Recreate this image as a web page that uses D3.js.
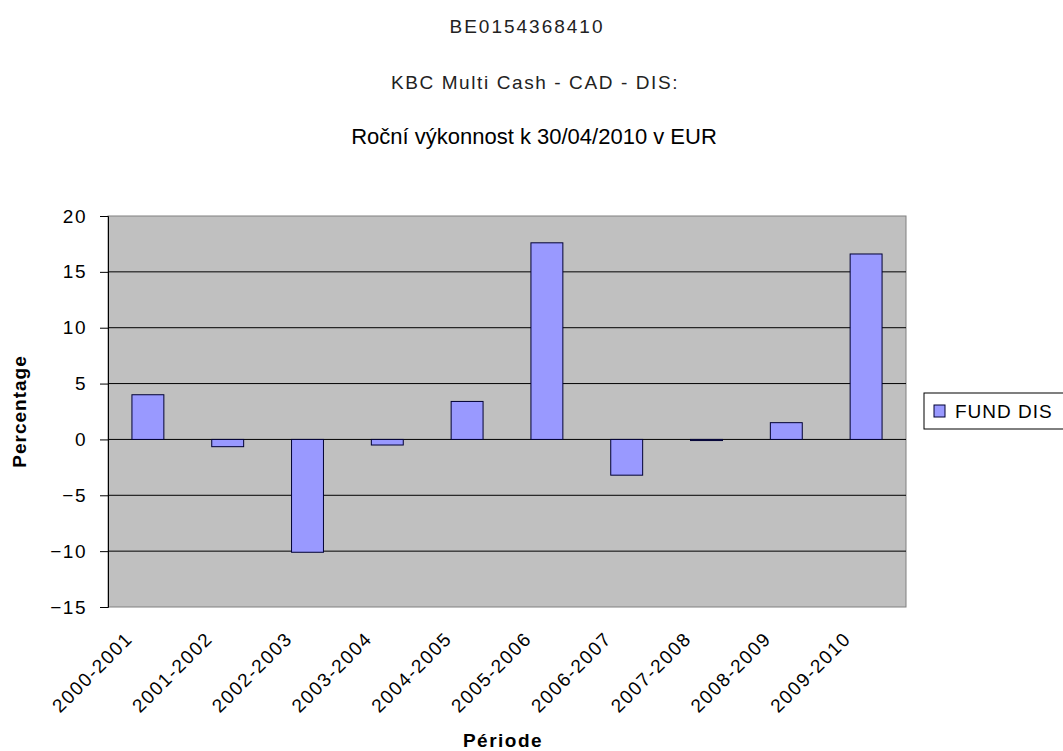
<!DOCTYPE html>
<html>
<head>
<meta charset="utf-8">
<script src="https://cdn.jsdelivr.net/npm/d3@7"></script>
<style>
  body { margin: 0; background: #fff; }
  text { font-family: Arial, "Liberation Sans", sans-serif; }
</style>
</head>
<body>
<svg id="chart" width="1063" height="751"></svg>
<script>
// data
const periods = ["2000-2001", "2001-2002", "2002-2003", "2003-2004", "2004-2005",
                 "2005-2006", "2006-2007", "2007-2008", "2008-2009", "2009-2010"];
const fundDis = [4.0, -0.65, -10.1, -0.5, 3.4, 17.6, -3.2, -0.1, 1.5, 16.6];
const yTicks = [20, 15, 10, 5, 0, -5, -10, -15];
const titles = ["BE0154368410", "KBC Multi Cash - CAD - DIS:", "Roční výkonnost k 30/04/2010 v EUR"];

var margin = ({ top: 216, right: 157, bottom: 144, left: 108 });
var width = 1063, height = 751;

const svg = d3.select("#chart");

let x = d3.scaleBand()
    .domain(periods)
    .range([margin.left, width - margin.right])
    .paddingInner(0.6)
    .paddingOuter(0.3);

let y = d3.scaleLinear()
    .domain([-15, 20])
    .range([height - margin.bottom, margin.top]);

// plot background
svg.append("rect")
    .attr("x", margin.left)
    .attr("y", margin.top)
    .attr("width", width - margin.right - margin.left)
    .attr("height", y(-15) - y(20))
    .attr("fill", "#c0c0c0")
    .attr("stroke", "#808080");

// grid lines
svg.append("g")
    .selectAll("line")
    .data(yTicks.filter(d => d > -15 && d < 20))
    .join("line")
    .attr("x1", margin.left)
    .attr("x2", width - margin.right)
    .attr("y1", d => y(d))
    .attr("y2", d => y(d))
    .attr("stroke", "#000")
    .attr("stroke-width", 1);

// bars
svg.append("g")
    .selectAll("rect")
    .data(fundDis)
    .join("rect")
    .attr("x", (d, i) => x(periods[i]))
    .attr("width", x.bandwidth())
    .attr("y", d => y(Math.max(0, d)))
    .attr("height", d => Math.abs(y(d) - y(0)))
    .attr("fill", "#9999ff")
    .attr("stroke", "#000033")
    .attr("stroke-width", 1);

// y axis
let yAxis = g => g
    .attr("transform", `translate(${margin.left},0)`)
    .call(d3.axisLeft(y).tickValues(yTicks).tickSize(8).tickPadding(13))
    .call(g => g.select(".domain").attr("stroke", "#000"))
    .call(g => g.selectAll(".tick text")
        .attr("font-size", 19)
        .attr("fill", "#000")
        .attr("font-family", "Arial, sans-serif")
        .style("letter-spacing", "1.5px"));

svg.append("g").call(yAxis);

// x axis labels
let xAxis = g => g
    .attr("transform", `translate(0,${height - margin.bottom})`)
    .call(d3.axisBottom(x).tickSize(0).tickPadding(0))
    .call(g => g.select(".domain").remove())
    .call(g => g.selectAll(".tick text")
        .attr("font-size", 19)
        .attr("fill", "#000")
        .attr("font-family", "Arial, sans-serif")
        .style("letter-spacing", "1.5px")
        .attr("text-anchor", "end")
        .attr("dy", "0")
        .attr("transform", "translate(-14,33) rotate(-45)"));

svg.append("g").call(xAxis);

// titles
const titleX = [527, 535, 534],
      titleY = [33, 89, 144],
      titleSize = [19, 19, 22],
      titleSpacing = ["2px", "1.6px", "0px"];

svg.append("g")
    .selectAll("text")
    .data(titles)
    .join("text")
    .attr("x", (d, i) => titleX[i])
    .attr("y", (d, i) => titleY[i])
    .attr("text-anchor", "middle")
    .attr("font-size", (d, i) => titleSize[i])
    .style("letter-spacing", (d, i) => titleSpacing[i])
    .attr("fill", (d, i) => i < 2 ? "#222" : "#000")
    .text(d => d);

// axis titles
svg.append("text")
    .attr("transform", `translate(26,${(y(20) + y(-15)) / 2}) rotate(-90)`)
    .attr("text-anchor", "middle")
    .attr("font-size", 19)
    .attr("font-weight", "bold")
    .style("letter-spacing", "1px")
    .text("Percentage");

svg.append("text")
    .attr("x", 503)
    .attr("y", 747)
    .attr("text-anchor", "middle")
    .attr("font-size", 19)
    .attr("font-weight", "bold")
    .style("letter-spacing", "1.5px")
    .text("Période");

// legend
const legend = svg.append("g").attr("transform", "translate(924,393)");
legend.append("rect")
    .attr("width", 140).attr("height", 36)
    .attr("fill", "#fff").attr("stroke", "#000");
legend.append("rect")
    .attr("x", 10).attr("y", 12).attr("width", 11).attr("height", 12)
    .attr("fill", "#9999ff").attr("stroke", "#000033");
legend.append("text")
    .attr("x", 31).attr("y", 25)
    .attr("font-size", 19)
    .style("letter-spacing", "1px")
    .text("FUND DIS");
</script>
</body>
</html>
